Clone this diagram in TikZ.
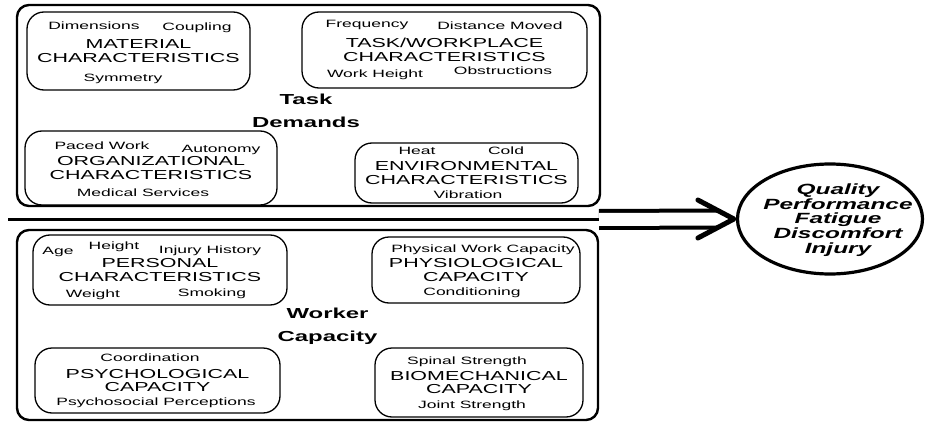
\documentclass[tikz,border=0pt]{standalone}
\usepackage{fontspec}
\setmainfont{Liberation Sans}[FakeStretch=1.65]
\usepackage{tikz}
\usetikzlibrary{calc, shapes.geometric, positioning}

\begin{document}
\begin{tikzpicture}[x=1pt, y=-1pt,
    outerbox/.style={draw, rectangle, rounded corners=12pt, line width=2.4pt, inner sep=0pt},
    factorbox/.style={draw, rectangle, rounded corners=17pt, line width=1.3pt, align=center, inner sep=0pt, font=\fontsize{13}{13.5}\selectfont},
    factor/.style={anchor=base, inner sep=0pt, font=\fontsize{10.6}{12}\selectfont},
    heading/.style={align=center, inner sep=0pt, font=\fontsize{14.5}{23}\bfseries\selectfont},
    shaft/.style={line width=4pt}]
    \useasboundingbox (0,0) rectangle (930,423);

    % Task demands frame
    \node[outerbox, minimum width=583pt, minimum height=201pt] (demands) at (308.5,105.5) {};
    \node[heading] (demandstitle) at (306,110.7) {Task\\Demands};

    % Material characteristics
    \node[factorbox, minimum width=223pt, minimum height=78pt] (material) at (138.5,51) {MATERIAL\\CHARACTERISTICS};
    \node[factor] (dimensions) at (94,29.5) {Dimensions};
    \node[factor] (coupling) at (197,30.5) {Coupling};
    \node[factor] (symmetry) at (123,81) {Symmetry};

    % Task/workplace characteristics
    \node[factorbox, minimum width=285pt, minimum height=76pt] (workplace) at (444.5,50) {TASK/WORKPLACE\\CHARACTERISTICS};
    \node[factor] (frequency) at (367,27.5) {Frequency};
    \node[factor] (distance) at (500,29.5) {Distance Moved};
    \node[factor] (workheight) at (375,77.5) {Work Height};
    \node[factor] (obstructions) at (503,74.5) {Obstructions};

    % Organizational characteristics
    \node[factorbox, minimum width=252pt, minimum height=74pt] (organizational) at (151,168) {ORGANIZATIONAL\\CHARACTERISTICS};
    \node[factor] (paced) at (102,149.5) {Paced Work};
    \node[factor] (autonomy) at (221,152.5) {Autonomy};
    \node[factor] (medical) at (143,196.5) {Medical Services};

    % Environmental characteristics
    \node[factorbox, minimum width=223pt, minimum height=60pt] (environmental) at (466.5,173) {ENVIRONMENTAL\\CHARACTERISTICS};
    \node[factor] (heat) at (417,154.5) {Heat};
    \node[factor] (cold) at (506,154.5) {Cold};
    \node[factor] (vibration) at (468,198) {Vibration};

    % Divider
    \coordinate (divstart) at (8,219.5);
    \coordinate (split) at (599,219.5);
    \draw[line width=3pt] (divstart) -- (split);

    % Worker capacity frame
    \node[outerbox, minimum width=581pt, minimum height=190pt] (capacity) at (307.5,325) {};
    \node[heading] (capacitytitle) at (327.5,326) {Worker\\Capacity};

    % Personal characteristics
    \node[factorbox, minimum width=254pt, minimum height=70pt] (personal) at (160,270) {PERSONAL\\CHARACTERISTICS};
    \node[factor] (age) at (58,254.5) {Age};
    \node[factor] (height) at (114,249.5) {Height};
    \node[factor] (injuryhistory) at (210,253.5) {Injury History};
    \node[factor] (weight) at (93,297.5) {Weight};
    \node[factor] (smoking) at (212,296.5) {Smoking};

    % Physiological capacity
    \node[factorbox, minimum width=208pt, minimum height=66pt] (physiological) at (476,270) {PHYSIOLOGICAL\\CAPACITY};
    \node[factor] (workcapacity) at (483,252) {Physical Work Capacity};
    \node[factor] (conditioning) at (472,295.5) {Conditioning};

    % Psychological capacity
    \node[factorbox, minimum width=245pt, minimum height=65pt] (psychological) at (157.5,380.5) {PSYCHOLOGICAL\\CAPACITY};
    \node[factor] (coordination) at (150,361.5) {Coordination};
    \node[factor] (perceptions) at (156,405.5) {Psychosocial Perceptions};

    % Biomechanical capacity
    \node[factorbox, minimum width=208pt, minimum height=69pt] (biomechanical) at (479,382.5) {BIOMECHANICAL\\CAPACITY};
    \node[factor] (spinal) at (467,364.5) {Spinal Strength};
    \node[factor] (joint) at (472,408.5) {Joint Strength};

    % Outcomes
    \node[draw, ellipse, line width=3.2pt, minimum width=185pt, minimum height=110pt, inner sep=0pt] (outcome) at (830,219) {};
    \node[align=center, inner sep=0pt, font=\fontsize{14.8}{14.8}\bfseries\itshape\selectfont] (outcomelist) at (838,220) {Quality\\Performance\\Fatigue\\Discomfort\\Injury};

    % Double arrow
    \draw[shaft, double, double distance=13pt] (split) -- ($(outcome.west)+(-17,0)$);
    \draw[shaft, line width=5pt, line join=round, line cap=round] ($(outcome.west)+(-38,-19)$) -- ($(outcome.west)+(-2,0)$) -- ($(outcome.west)+(-38,19)$);
\end{tikzpicture}
\end{document}
